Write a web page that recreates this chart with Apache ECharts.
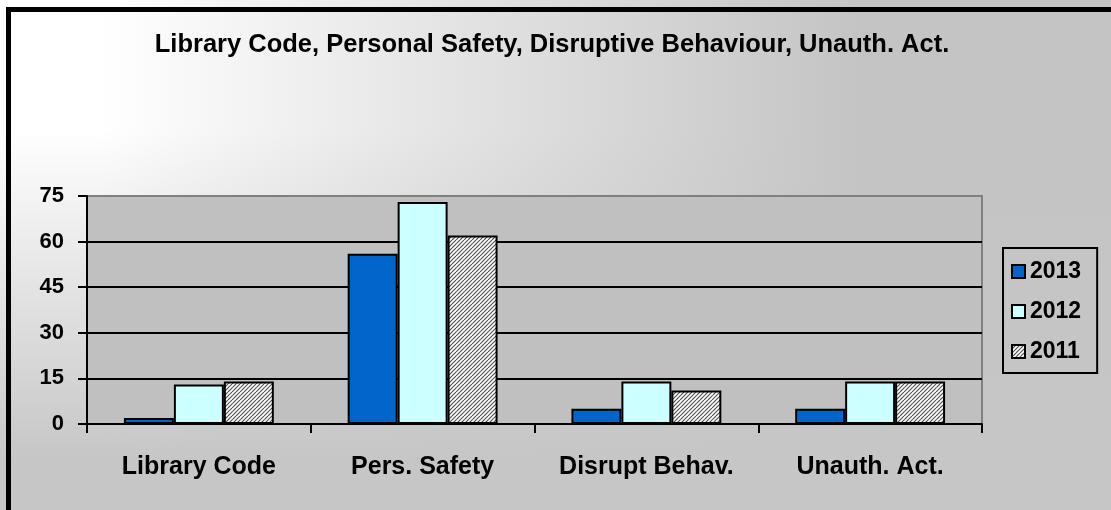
<!DOCTYPE html>
<html>
<head>
<meta charset="utf-8">
<script src="https://cdn.jsdelivr.net/npm/echarts@6/dist/echarts.min.js"></script>
<style>
  html, body { margin: 0; padding: 0; background: #fff; }
  #chart { width: 1111px; height: 510px; }
</style>
</head>
<body>
<div id="chart"></div>
<script>
  // data
  const categories = ['Library Code', 'Pers. Safety', 'Disrupt Behav.', 'Unauth. Act.'];
  const seriesNames = ['2013', '2012', '2011'];
  const values2013 = [2, 56, 5, 5];
  const values2012 = [13, 73, 14, 14];
  const values2011 = [14, 62, 11, 14];
  const yTicks = [0, 15, 30, 45, 60, 75];

  const font = 'Liberation Sans, Arial, sans-serif';

  // diagonal hatch for 2011
  function hatch() {
    const c = document.createElement('canvas');
    c.width = 8; c.height = 8;
    const g = c.getContext('2d');
    g.fillStyle = '#ffffff';
    g.fillRect(0, 0, 8, 8);
    g.strokeStyle = '#555555';
    g.lineWidth = 1.2;
    for (let k = -8; k <= 16; k += 4) {
      g.beginPath();
      g.moveTo(k, 8);
      g.lineTo(k + 8, 0);
      g.stroke();
    }
    return { image: c, repeat: 'repeat' };
  }

  const myChart = echarts.init(document.getElementById('chart'), null, { renderer: 'canvas' });

  const barStyle = { borderColor: '#000', borderWidth: 2 };

  myChart.setOption({
    animation: false,
    graphic: [
      {
        type: 'rect', z: -10, silent: true,
        shape: { x: 0, y: 0, width: 1111, height: 510 },
        style: {
          fill: new echarts.graphic.LinearGradient(100, 0, 860, 0, [
            { offset: 0, color: '#ffffff' },
            { offset: 1, color: '#c4c4c4' }
          ], true)
        }
      },
      {
        type: 'rect', z: -9, silent: true,
        shape: { x: 0, y: 0, width: 1111, height: 510 },
        style: {
          fill: new echarts.graphic.LinearGradient(0, 130, 0, 460, [
            { offset: 0, color: 'rgba(198,198,198,0)' },
            { offset: 1, color: 'rgba(198,198,198,1)' }
          ], true)
        }
      },
      {
        type: 'rect', z: -8, silent: true,
        shape: { x: 8.5, y: 9.5, width: 1300, height: 700 },
        style: { fill: null, stroke: '#000', lineWidth: 5 }
      }
    ],
    title: {
      text: 'Library Code, Personal Safety, Disruptive Behaviour, Unauth. Act.',
      left: 547,
      top: 27,
      textAlign: 'center',
      textStyle: { fontFamily: font, fontSize: 25.5, fontWeight: 'bold', color: '#000' }
    },
    legend: {
      orient: 'vertical',
      left: 1003,
      top: 248,
      padding: [12, 16, 10, 8],
      itemGap: 17,
      itemWidth: 13,
      itemHeight: 13,
      borderColor: '#000',
      borderWidth: 2,
      icon: 'rect',
      data: seriesNames,
      textStyle: { fontFamily: font, fontSize: 23, fontWeight: 'bold', color: '#000' }
    },
    grid: {
      left: 87,
      right: 129,
      top: 196,
      bottom: 86,
      show: true,
      backgroundColor: '#c0c0c0',
      borderColor: '#808080',
      borderWidth: 2
    },
    xAxis: {
      type: 'category',
      data: categories,
      axisLine: { lineStyle: { color: '#000', width: 2 } },
      axisTick: { show: true, interval: 0, length: 9, lineStyle: { color: '#000', width: 2 } },
      axisLabel: { interval: 0, margin: 31, fontFamily: font, fontSize: 25, fontWeight: 'bold', color: '#000' }
    },
    yAxis: {
      type: 'value',
      min: yTicks[0],
      max: yTicks[yTicks.length - 1],
      interval: 15,
      axisLine: { show: true, lineStyle: { color: '#000', width: 2 } },
      axisTick: { show: true, length: 9, lineStyle: { color: '#000', width: 2 } },
      axisLabel: { margin: 23, fontFamily: font, fontSize: 22, fontWeight: 'bold', color: '#000' },
      splitLine: {
        show: true,
        lineStyle: { color: ['#000', '#000', '#000', '#000', '#000', '#808080'], width: 2 }
      }
    },
    series: [
      {
        name: seriesNames[0], type: 'bar', data: values2013,
        barGap: '0%', barCategoryGap: '33%',
        itemStyle: Object.assign({ color: '#0066cc' }, barStyle)
      },
      {
        name: seriesNames[1], type: 'bar', data: values2012,
        barGap: '0%', barCategoryGap: '33%',
        itemStyle: Object.assign({ color: '#ccffff' }, barStyle)
      },
      {
        name: seriesNames[2], type: 'bar', data: values2011,
        barGap: '0%', barCategoryGap: '33%',
        itemStyle: Object.assign({ color: hatch() }, barStyle)
      }
    ]
  });
</script>
</body>
</html>
